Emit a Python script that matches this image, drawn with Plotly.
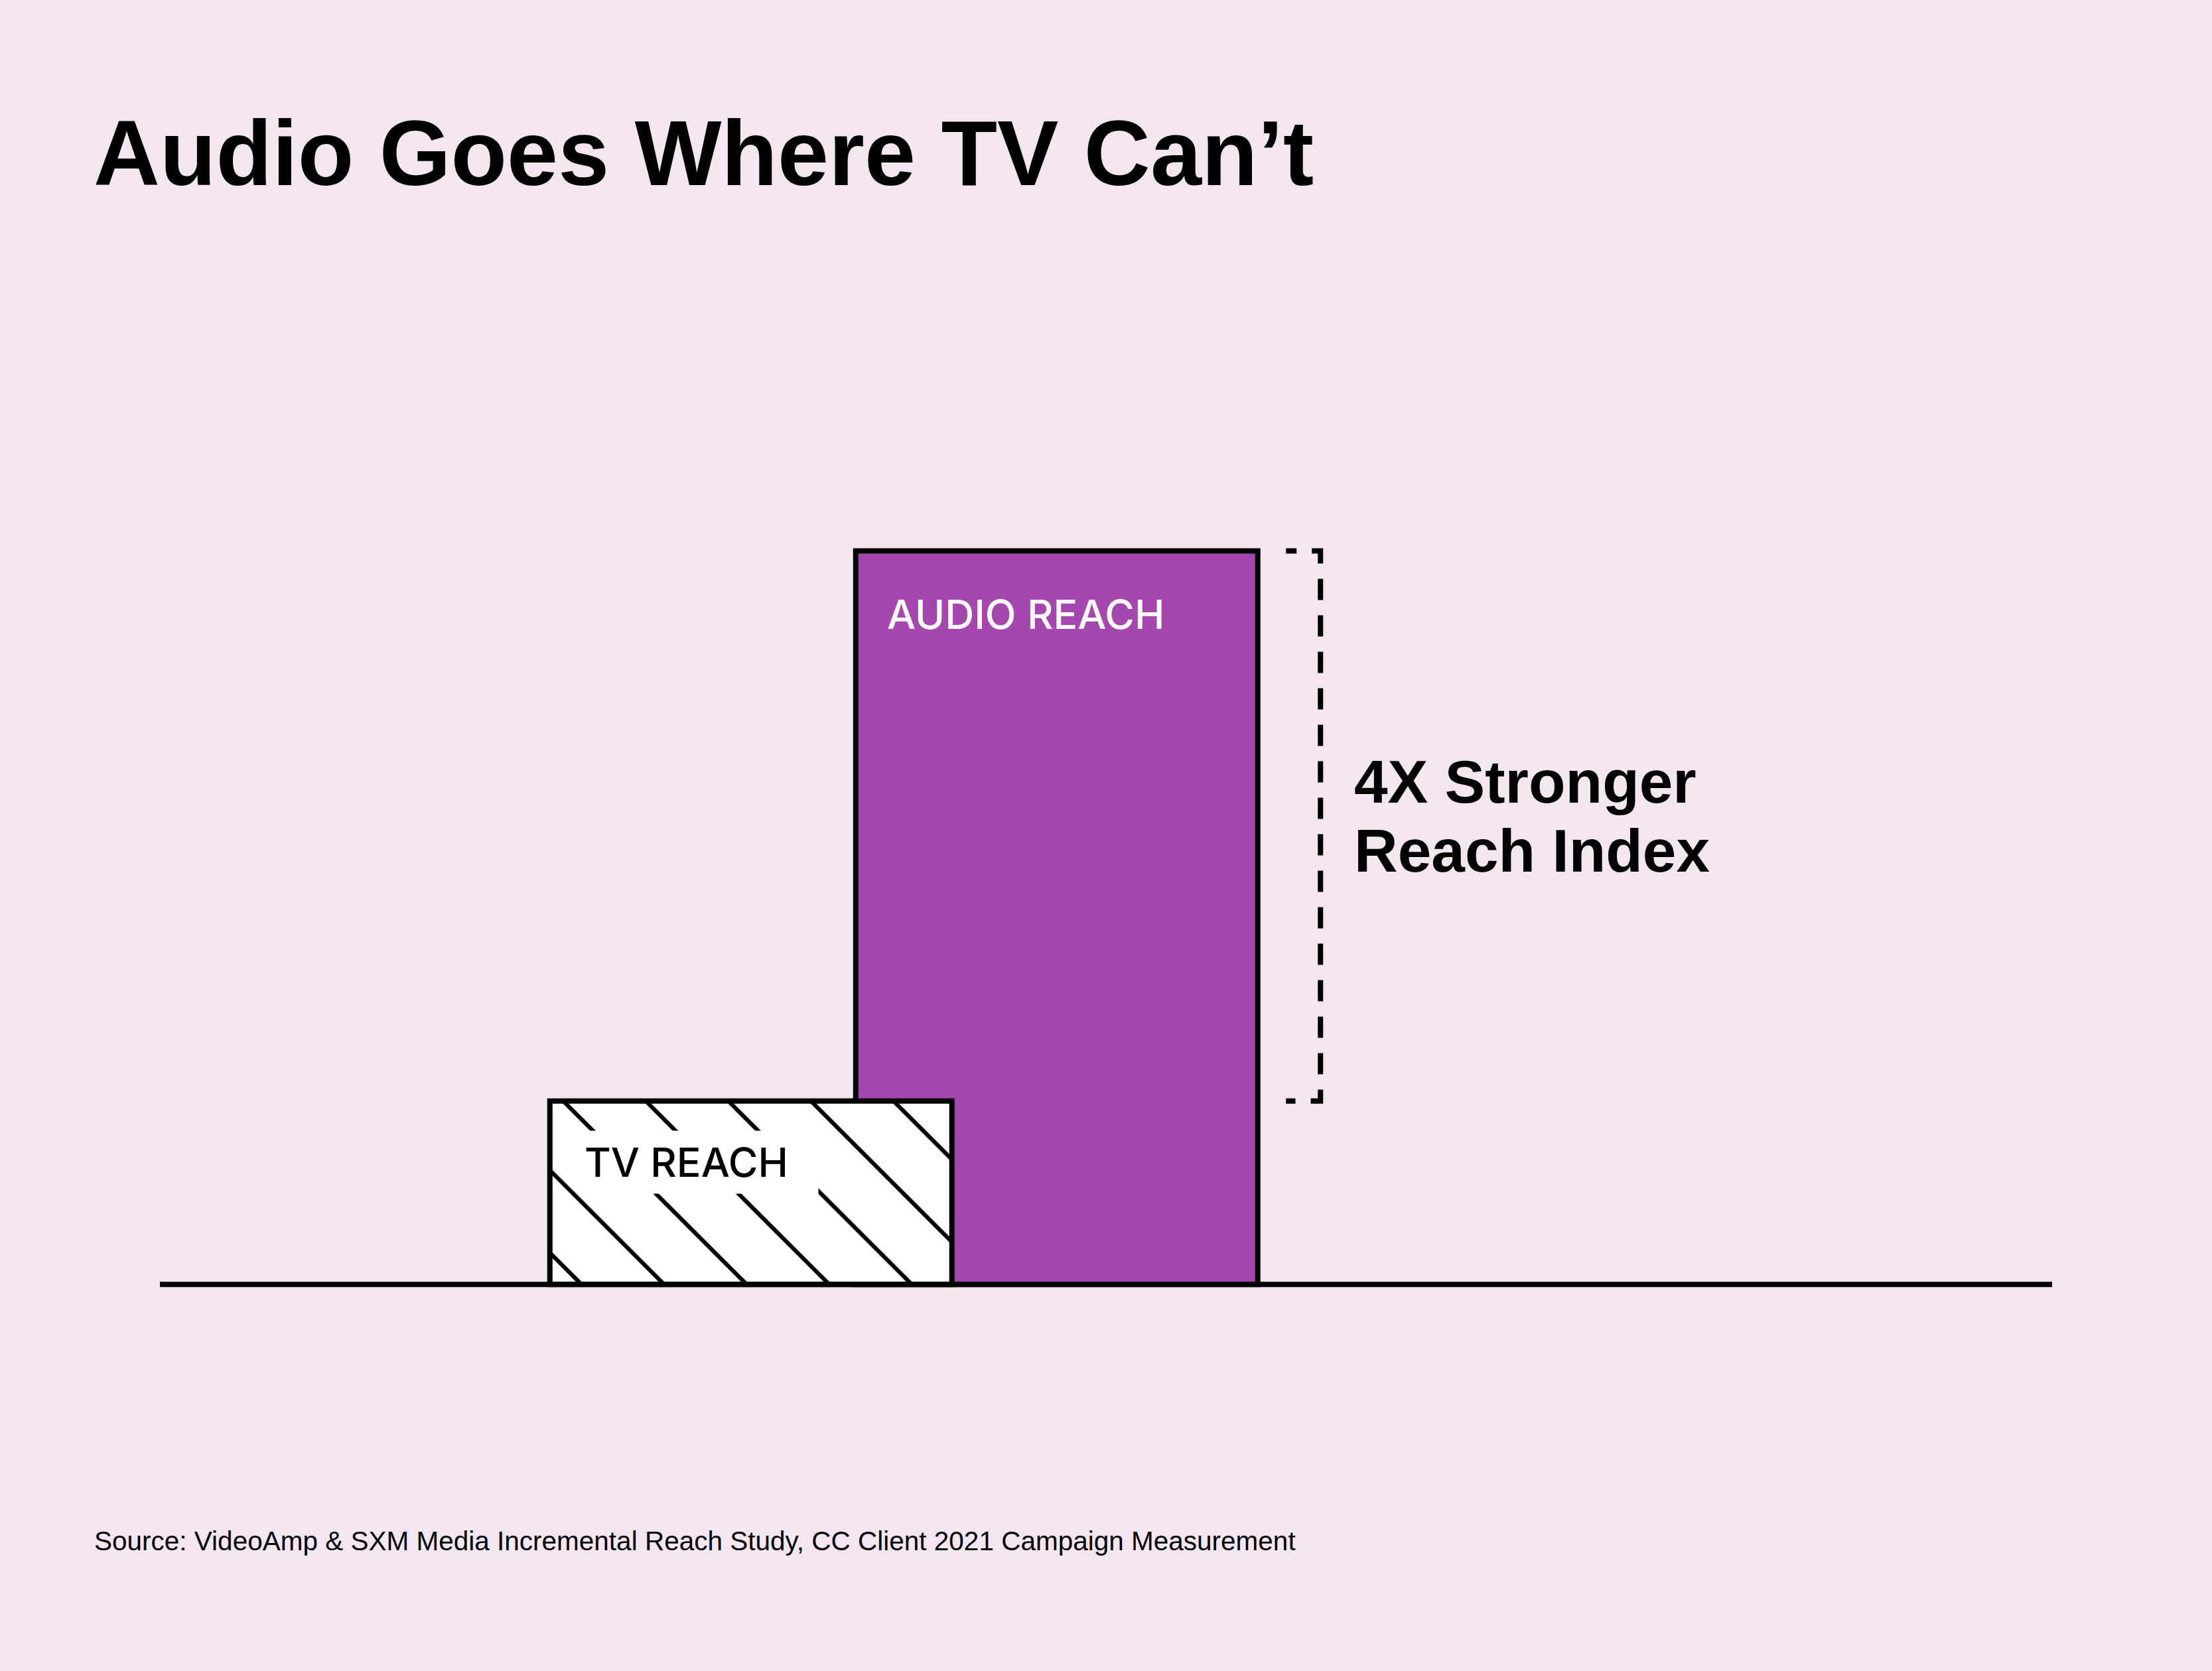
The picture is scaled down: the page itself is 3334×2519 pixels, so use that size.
import plotly.graph_objects as go

# ---- data ----
categories = ["TV REACH", "AUDIO REACH"]
reach_index = [1, 4]
title_text = "Audio Goes Where TV Can’t"
callout_lines = ["4X Stronger", "Reach Index"]
source_text = "Source: VideoAmp & SXM Media Incremental Reach Study, CC Client 2021 Campaign Measurement"

# ---- layout constants ----
W, H = 3334, 2519
L, R, T, B = 241, 241, 554, 569
BG = "#F3E6F1"
PURPLE = "#A547AE"
FONT = "Liberation Sans"
LABEL_FONT = "Inter"
PW, PH = W - L - R, H - T - B


def px_x(px):
    return (px - L) / PW


def px_y(py):
    return (H - B - py) / PH


tv_val, audio_val = reach_index
bar_w = 1.3145

fig = go.Figure()
# audio bar (behind)
fig.add_trace(go.Bar(
    x=[categories[1]], y=[audio_val], width=[bar_w],
    marker=dict(color=PURPLE, line=dict(color="black", width=8)),
    hoverinfo="skip", cliponaxis=False,
))
# TV bar (front, hatched)
fig.add_trace(go.Bar(
    x=[categories[0]], y=[tv_val], width=[bar_w],
    marker=dict(color="white", line=dict(color="black", width=8),
                pattern=dict(shape="\\", fgcolor="#000000", bgcolor="#FFFFFF",
                             fgopacity=1, fillmode="replace",
                             size=88, solidity=0.07)),
    hoverinfo="skip", cliponaxis=False,
))

dash = "16px,23px," + ",".join(["32px,23px"] * 18)

shapes = [
    # baseline
    dict(type="line", xref="paper", x0=0, x1=1, yref="y", y0=0, y1=0,
         line=dict(color="black", width=8), layer="above"),
    # bracket
    dict(type="path", xref="x", xsizemode="pixel", xanchor=categories[1],
         yref="y", ysizemode="scaled",
         path=f"M345.5,{audio_val} L397.5,{audio_val} L397.5,{tv_val} L345.5,{tv_val}",
         line=dict(color="black", width=8, dash=dash), layer="above"),
]

annotations = [
    dict(text=title_text, xref="paper", yref="paper", x=px_x(139), y=px_y(152),
         xanchor="left", yanchor="top", showarrow=False,
         font=dict(family=FONT, size=138.5, color="black", weight="bold")),
    dict(text=source_text, xref="paper", yref="paper", x=px_x(140), y=px_y(2298),
         xanchor="left", yanchor="top", showarrow=False,
         font=dict(family=FONT, size=40.5, color="black")),
    dict(text=categories[1], xref="x", yref="y", x=categories[1], y=audio_val,
         xshift=-258, yshift=-57, xanchor="left", yanchor="top", showarrow=False,
         font=dict(family=LABEL_FONT, size=61, color="white", weight=500)),
    dict(text=categories[0], xref="x", yref="y", x=categories[0], y=tv_val,
         xshift=-264, yshift=-44, xanchor="left", yanchor="top", showarrow=False,
         bgcolor="white", borderpad=12, width=340, height=70, align="left",
         font=dict(family=LABEL_FONT, size=61, color="black", weight=500)),
    dict(text=callout_lines[0], xref="paper", yref="paper", x=px_x(2039), y=px_y(1125.5),
         xanchor="left", yanchor="top", showarrow=False,
         font=dict(family=FONT, size=91, color="black", weight="bold")),
    dict(text=callout_lines[1], xref="paper", yref="paper", x=px_x(2039), y=px_y(1229.5),
         xanchor="left", yanchor="top", showarrow=False,
         font=dict(family=FONT, size=91, color="black", weight="bold")),
]

fig.update_layout(
    width=W, height=H,
    margin=dict(l=L, r=R, t=T, b=B, pad=0),
    paper_bgcolor=BG, plot_bgcolor=BG,
    barmode="overlay", showlegend=False,
    xaxis=dict(type="category", categoryorder="array", categoryarray=categories,
               range=[-1.9322, 4.2543], visible=False, fixedrange=True),
    yaxis=dict(range=[-0.05, 5], visible=False, fixedrange=True),
    shapes=shapes, annotations=annotations,
)

fig.write_html("out.html", config={"displayModeBar": False},
               post_script="document.body.style.margin='0';")
